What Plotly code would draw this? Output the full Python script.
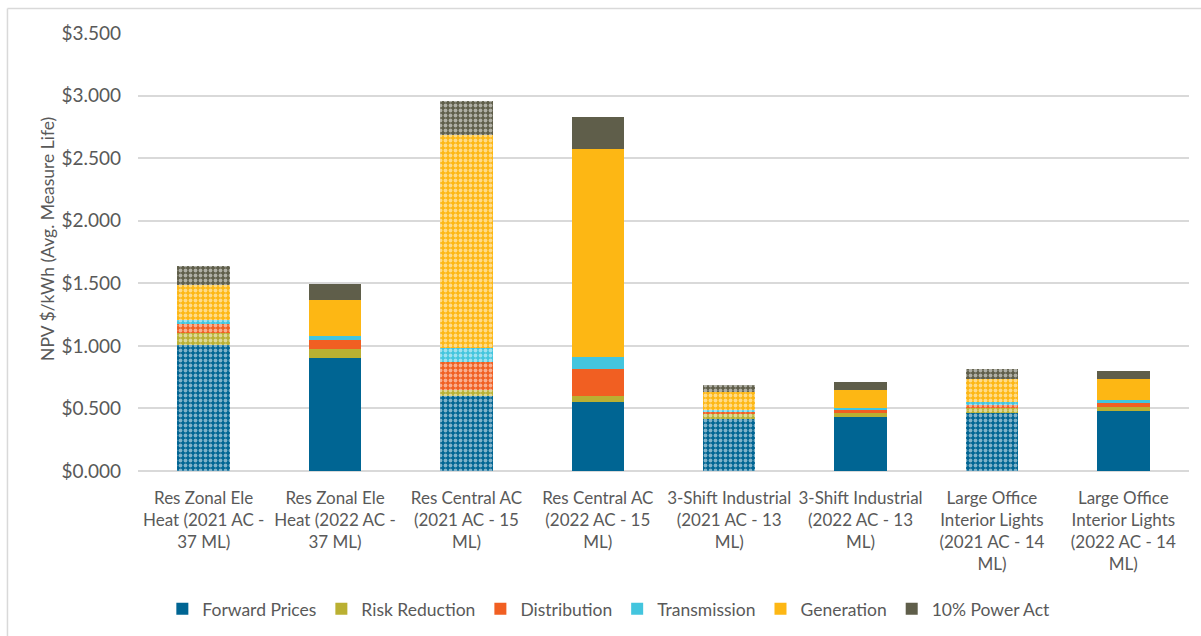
import plotly.graph_objects as go

categories = [
    "Res Zonal Ele<br>Heat (2021 AC -<br>37 ML)",
    "Res Zonal Ele<br>Heat (2022 AC -<br>37 ML)",
    "Res Central AC<br>(2021 AC - 15<br>ML)",
    "Res Central AC<br>(2022 AC - 15<br>ML)",
    "3-Shift Industrial<br>(2021 AC - 13<br>ML)",
    "3-Shift Industrial<br>(2022 AC - 13<br>ML)",
    "Large Office<br>Interior Lights<br>(2021 AC - 14<br>ML)",
    "Large Office<br>Interior Lights<br>(2022 AC - 14<br>ML)",
]

# 2021 avoided-cost vintages are hatched, 2022 vintages are solid
is_2021 = [True, False, True, False, True, False, True, False]

forward_prices = [1.007, 0.906, 0.600, 0.554, 0.413, 0.432, 0.461, 0.482]
risk_reduction = [0.094, 0.067, 0.047, 0.046, 0.040, 0.034, 0.045, 0.032]
distribution = [0.074, 0.074, 0.227, 0.218, 0.024, 0.024, 0.024, 0.032]
transmission = [0.032, 0.032, 0.112, 0.091, 0.011, 0.016, 0.024, 0.019]
generation = [0.280, 0.285, 1.700, 1.665, 0.146, 0.139, 0.179, 0.170]
power_act = [0.152, 0.133, 0.272, 0.253, 0.053, 0.064, 0.085, 0.065]

series = [
    ("Forward Prices", forward_prices, "#006593"),
    ("Risk Reduction", risk_reduction, "#BAB032"),
    ("Distribution", distribution, "#F15F22"),
    ("Transmission", transmission, "#43C5DE"),
    ("Generation", generation, "#FDB714"),
    ("10% Power Act", power_act, "#5F5E4A"),
]

GRAY = "#595959"
FONT = "Lato, Calibri, Carlito, sans-serif"

fig = go.Figure()
for name, values, color in series:
    solid_vals = [None if h else v for v, h in zip(values, is_2021)]
    hatched_vals = [v if h else None for v, h in zip(values, is_2021)]
    # solid segments (2022) carry the legend entry
    fig.add_trace(go.Bar(
        name=name,
        legendgroup=name,
        x=categories,
        y=solid_vals,
        width=0.40,
        marker=dict(color=color, line=dict(width=0)),
    ))
    # hatched segments (2021)
    fig.add_trace(go.Bar(
        name=name,
        legendgroup=name,
        showlegend=False,
        x=categories,
        y=hatched_vals,
        width=0.40,
        marker=dict(
            color=color,
            line=dict(width=0),
            pattern=dict(
                shape=".",
                fgcolor="white",
                bgcolor=color,
                size=5,
                solidity=0.45,
                fillmode="overlay",
            ),
        ),
    ))

# outer chart frame (left and top edges)
fig.add_shape(type="line", xref="paper", yref="paper",
              x0=-0.1242, x1=-0.1242, y0=1.056, y1=-0.40,
              line=dict(color="#D9D9D9", width=1.5))
fig.add_shape(type="line", xref="paper", yref="paper",
              x0=-0.1242, x1=1.02, y0=1.056, y1=1.056,
              line=dict(color="#D9D9D9", width=1.5))

fig.add_annotation(
    text="NPV $/kWh (Avg. Measure Life)",
    xref="paper", yref="paper", x=-0.0856, y=0.53,
    xanchor="center", yanchor="middle",
    textangle=-90, showarrow=False,
    font=dict(family=FONT, size=17.5, color=GRAY),
)

fig.update_layout(
    barmode="stack",
    width=1201, height=636,
    margin=dict(l=138, r=12, t=33, b=165, autoexpand=False),
    paper_bgcolor="white",
    plot_bgcolor="white",
    font=dict(family=FONT, size=16, color=GRAY),
    showlegend=True,
    legend=dict(
        orientation="h",
        x=0.448, xanchor="center",
        y=-0.315, yanchor="middle",
        font=dict(family=FONT, size=17.5, color=GRAY),
        traceorder="normal",
        itemwidth=30,
    ),
    xaxis=dict(
        tickfont=dict(family=FONT, size=17, color=GRAY),
        showgrid=False,
        showline=False,
        ticks="",
        tickangle=0,
        ticklabelstandoff=15,
        automargin=False,
    ),
    yaxis=dict(
        range=[0, 3.5],
        dtick=0.5,
        tickprefix="$",
        tickformat=".3f",
        tickfont=dict(family=FONT, size=19, color=GRAY),
        gridcolor="#D9D9D9",
        gridwidth=1.5,
        zeroline=True,
        zerolinecolor="#D9D9D9",
        zerolinewidth=1.5,
        showline=False,
        ticks="",
        ticklabelstandoff=16,
        automargin=False,
    ),
)

fig.write_html("out.html")
